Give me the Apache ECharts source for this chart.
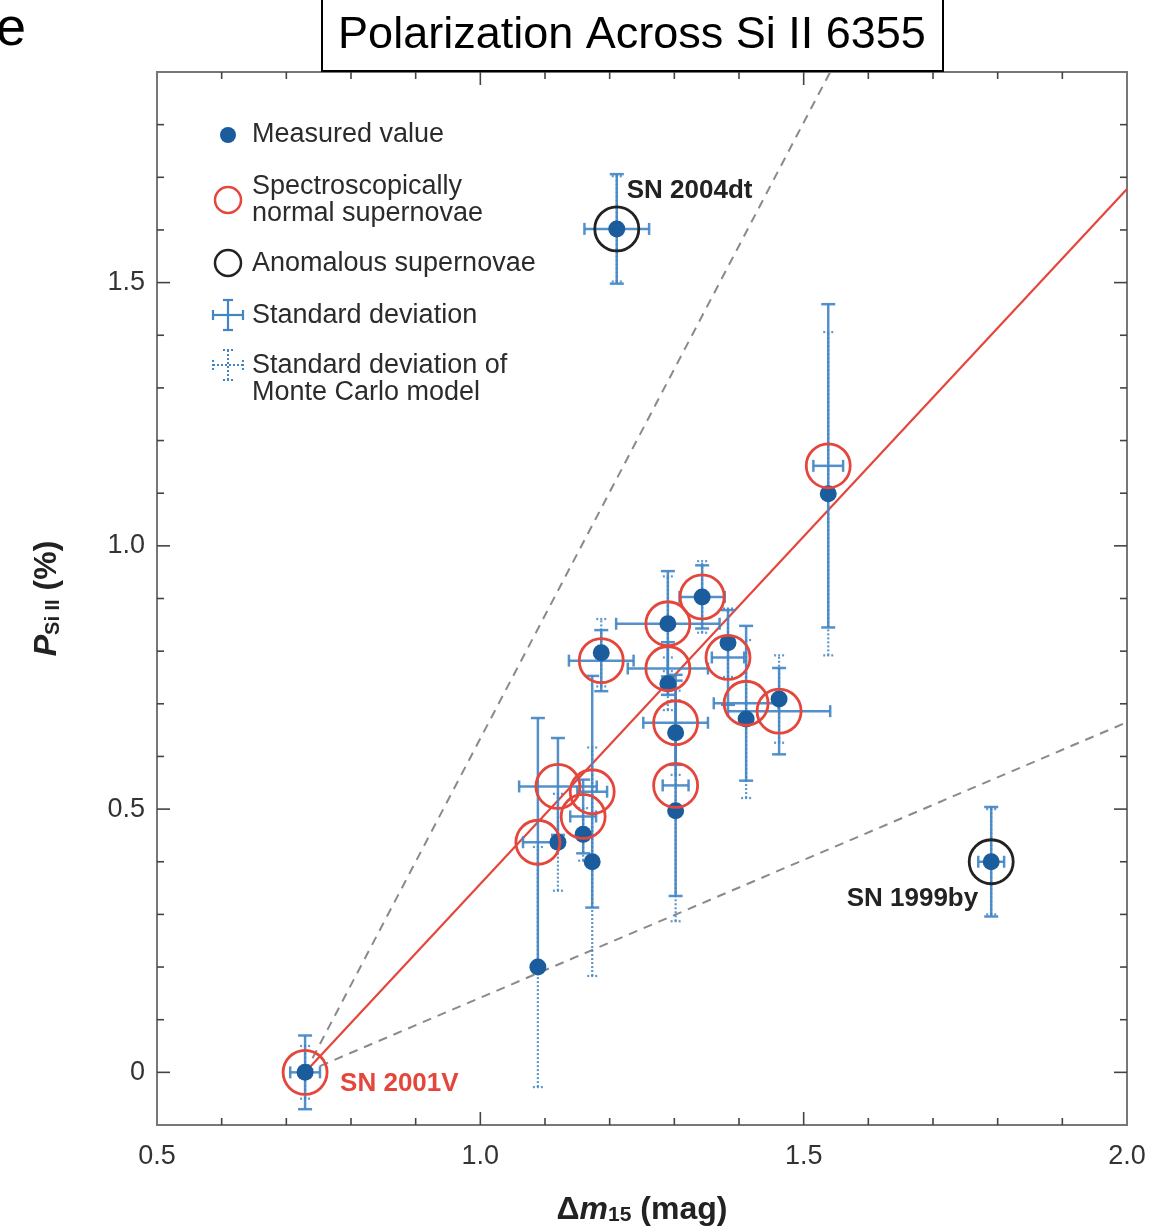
<!DOCTYPE html>
<html><head><meta charset="utf-8">
<script src="https://cdn.jsdelivr.net/npm/echarts@6/dist/echarts.min.js"></script>
<style>html,body{margin:0;padding:0;background:#fff}#c{width:1173px;height:1231px}</style>
</head><body><div id="c"></div>
<script>
// ---- data ----
const snLabels   = ['SN 2001V','','','','','','SN 2004dt','','','','','','','','','','SN 1999by'];
const anomalous  = [0,0,0,0,0,0,1,0,0,0,0,0,0,0,0,0,1];
const dm15       = [0.729,1.089,1.120,1.159,1.173,1.187,1.211,1.290,1.290,1.302,1.302,1.343,1.383,1.411,1.462,1.538,1.790];
const pCircle    = [0.000,0.437,0.543,0.486,0.533,0.782,1.602,0.852,0.767,0.664,0.545,0.903,0.788,0.701,0.686,1.152,0.400];
const sdY        = [0.070,0.236,0.092,0.070,0.220,0.058,0.104,0.100,0.050,0.080,0.210,0.060,0.090,0.147,0.082,0.307,0.104];
const sdX        = [0.023,0.023,0.060,0.020,0.023,0.050,0.050,0.080,0.062,0.050,0.020,0.035,0.025,0.050,0.079,0.023,0.020];
const pMeasured  = [0.000,0.200,0.437,0.452,0.400,0.797,1.602,0.852,0.738,0.645,0.497,0.903,0.816,0.671,0.709,1.099,0.400];
const mcY        = [0.050,0.228,0.092,0.050,0.217,0.064,0.100,0.090,0.050,0.080,0.210,0.068,0.065,0.150,0.083,0.307,0.100];
const fitLine    = [[0.729,0.000],[2.000,1.678]];
const upperBound = [[0.729,0.000],[1.541,1.900]];
const lowerBound = [[0.729,0.000],[2.000,0.665]];
const xMajorTicks = [1.0,1.5];
const xMinorTicks = [0.6,0.7,0.8,0.9,1.1,1.2,1.3,1.4,1.6,1.7,1.8,1.9];
const yMajorTicks = [0,0.5,1.0,1.5];
const yMinorTicks = [0.1,0.2,0.3,0.4,0.6,0.7,0.8,0.9,1.1,1.2,1.3,1.4,1.6,1.7,1.8];
const xTickLabels = {'0.5':'0.5','1':'1.0','1.5':'1.5','2':'2.0'};
const yTickLabels = {'0':'0','0.5':'0.5','1':'1.0','1.5':'1.5'};

// ---- styles ----
const X_MIN=0.5, X_MAX=2.0, Y_MIN=-0.1, Y_MAX=1.9;
const BLUE_BAR='#4185c4', BLUE_DOT='#1b5c9c', RED='#e5463c', BLACK='#222';
const FONT='"Liberation Sans", Arial, sans-serif';
const labelStyle = {
  'SN 2001V':  {align:'left',  offset:[35,11],  color:RED},
  'SN 2004dt': {align:'left',  offset:[10,-38], color:'#222'},
  'SN 1999by': {align:'right', offset:[-13,37], color:'#222'}
};

function line(x1,y1,x2,y2,style){return {type:'line',shape:{x1,y1,x2,y2},style};}

function errRender(params, api){
  const x=api.value(0), yc=api.value(1), sy=api.value(2), sx=api.value(3), yd=api.value(4), my=api.value(5);
  const ch=[];
  const dot={stroke:BLUE_BAR,lineWidth:2.2,lineDash:[2,2],opacity:0.85};
  const sol={stroke:BLUE_BAR,lineWidth:2.5,opacity:0.9};
  const d0=api.coord([x,yd-my]), d1=api.coord([x,yd+my]);
  ch.push(line(d0[0],d0[1],d1[0],d1[1],dot));
  ch.push(line(d0[0]-5,d0[1],d0[0]+5,d0[1],dot));
  ch.push(line(d1[0]-5,d1[1],d1[0]+5,d1[1],dot));
  const s0=api.coord([x,yc-sy]), s1=api.coord([x,yc+sy]);
  ch.push(line(s0[0],s0[1],s1[0],s1[1],sol));
  ch.push(line(s0[0]-7,s0[1],s0[0]+7,s0[1],sol));
  ch.push(line(s1[0]-7,s1[1],s1[0]+7,s1[1],sol));
  const h0=api.coord([x-sx,yc]), h1=api.coord([x+sx,yc]);
  ch.push(line(h0[0],h0[1],h1[0],h1[1],sol));
  ch.push(line(h0[0],h0[1]-6,h0[0],h0[1]+6,sol));
  ch.push(line(h1[0],h1[1]-6,h1[0],h1[1]+6,sol));
  return {type:'group',children:ch};
}

function tickRender(params, api){
  const cs=params.coordSys; const v=api.value(0), major=api.value(1), dir=api.value(2);
  const L = major?13:7;
  const st={stroke:'#444',lineWidth:1.6};
  if(dir===0){
    const px=api.coord([v,Y_MIN])[0];
    return {type:'group',children:[line(px,cs.y+cs.height,px,cs.y+cs.height-L,st),line(px,cs.y,px,cs.y+L,st)]};
  } else {
    const py=api.coord([X_MIN,v])[1];
    return {type:'group',children:[line(cs.x,py,cs.x+L,py,st),line(cs.x+cs.width,py,cs.x+cs.width-L,py,st)]};
  }
}

const tickData = [].concat(
  xMinorTicks.map(v=>[v,0,0]), xMajorTicks.map(v=>[v,1,0]),
  yMinorTicks.map(v=>[v,0,1]), yMajorTicks.map(v=>[v,1,1]));
const errData = dm15.map((x,i)=>[x,pCircle[i],sdY[i],sdX[i],pMeasured[i],mcY[i]]);
const dotData = dm15.map((x,i)=>[x,pMeasured[i]]);
const circleData = dm15.map((x,i)=>{
  const item={value:[x,pCircle[i]], itemStyle:{borderColor: anomalous[i]?BLACK:RED}};
  const ls=labelStyle[snLabels[i]];
  if(ls){
    item.label={show:true,formatter:snLabels[i],position:'inside',align:ls.align,verticalAlign:'middle',
      offset:ls.offset,color:ls.color,fontFamily:FONT,fontWeight:'bold',fontSize:26};
  }
  return item;
});

const legendX=228, legendTX=252;
const LF='27px '+FONT, LC='#2b2b2b';
const legendGraphics = [
  {type:'circle',shape:{cx:legendX,cy:135,r:8},style:{fill:BLUE_DOT}},
  {type:'text',style:{x:legendTX,y:135,text:'Measured value',font:LF,fill:LC,textVerticalAlign:'middle'}},
  {type:'circle',shape:{cx:legendX,cy:200,r:13},style:{fill:'none',stroke:RED,lineWidth:2.5}},
  {type:'text',style:{x:legendTX,y:200,text:'Spectroscopically\nnormal supernovae',font:LF,lineHeight:27,fill:LC,textVerticalAlign:'middle'}},
  {type:'circle',shape:{cx:legendX,cy:263,r:13},style:{fill:'none',stroke:BLACK,lineWidth:2.5}},
  {type:'text',style:{x:legendTX,y:264,text:'Anomalous supernovae',font:LF,fill:LC,textVerticalAlign:'middle'}},
  line(legendX,300,legendX,330,{stroke:BLUE_BAR,lineWidth:2.2}),
  line(legendX-5,300,legendX+5,300,{stroke:BLUE_BAR,lineWidth:2.2}),
  line(legendX-5,330,legendX+5,330,{stroke:BLUE_BAR,lineWidth:2.2}),
  line(legendX-15,315,legendX+15,315,{stroke:BLUE_BAR,lineWidth:2.2}),
  line(legendX-15,310,legendX-15,320,{stroke:BLUE_BAR,lineWidth:2.2}),
  line(legendX+15,310,legendX+15,320,{stroke:BLUE_BAR,lineWidth:2.2}),
  {type:'text',style:{x:legendTX,y:316,text:'Standard deviation',font:LF,fill:LC,textVerticalAlign:'middle'}},
  line(legendX,350,legendX,380,{stroke:BLUE_BAR,lineWidth:2,lineDash:[2,2]}),
  line(legendX-5,350,legendX+5,350,{stroke:BLUE_BAR,lineWidth:2,lineDash:[2,2]}),
  line(legendX-5,380,legendX+5,380,{stroke:BLUE_BAR,lineWidth:2,lineDash:[2,2]}),
  line(legendX-15,365,legendX+15,365,{stroke:BLUE_BAR,lineWidth:2,lineDash:[2,2]}),
  line(legendX-15,360,legendX-15,370,{stroke:BLUE_BAR,lineWidth:2,lineDash:[2,2]}),
  line(legendX+15,360,legendX+15,370,{stroke:BLUE_BAR,lineWidth:2,lineDash:[2,2]}),
  {type:'text',style:{x:legendTX,y:379,text:'Standard deviation of\nMonte Carlo model',font:LF,lineHeight:27,fill:LC,textVerticalAlign:'middle'}}
];

const richName = {
  d:{fontSize:32,fontWeight:'bold',fontFamily:FONT,color:'#222',verticalAlign:'bottom',lineHeight:38},
  i:{fontSize:32,fontWeight:'bold',fontStyle:'italic',fontFamily:FONT,color:'#222',verticalAlign:'bottom',lineHeight:38},
  s:{fontSize:21,fontWeight:'bold',fontFamily:FONT,color:'#222',verticalAlign:'bottom',lineHeight:29}};
const richNameY = {
  d:richName.d, i:richName.i,
  s:{fontSize:20,fontWeight:'bold',fontFamily:FONT,color:'#222',verticalAlign:'bottom',lineHeight:29}};

const option = {
  animation:false,
  backgroundColor:'#fff',
  grid:{left:157,right:46,top:72,bottom:96,show:true,borderColor:'#777',borderWidth:2,backgroundColor:'transparent'},
  xAxis:{type:'value',min:X_MIN,max:X_MAX,interval:0.5,
    axisLine:{show:false},axisTick:{show:false},splitLine:{show:false},
    axisLabel:{margin:18,fontSize:27,color:'#333',fontFamily:FONT,
      formatter:v=>xTickLabels[String(Math.round(v*10)/10)]||''},
    name:'{d|Δ}{i|m}{s|15}{d| (mag)}',nameLocation:'middle',nameGap:63,
    nameTextStyle:{rich:richName}},
  yAxis:{type:'value',min:Y_MIN,max:Y_MAX,interval:0.1,
    axisLine:{show:false},axisTick:{show:false},splitLine:{show:false},
    axisLabel:{margin:12,fontSize:27,color:'#333',fontFamily:FONT,
      formatter:v=>yTickLabels[String(Math.round(v*10)/10)]||''},
    name:'{i|P}{s|Si II}{d| (%)}',nameLocation:'middle',nameGap:94,nameRotate:90,
    nameTextStyle:{rich:richNameY}},
  series:[
    {type:'custom',renderItem:tickRender,data:tickData,z:1,silent:true},
    {type:'line',data:upperBound,symbol:'none',lineStyle:{color:'#8a8a8a',width:2,type:[9,7]},z:2,silent:true},
    {type:'line',data:lowerBound,symbol:'none',lineStyle:{color:'#8a8a8a',width:2,type:[9,7]},z:2,silent:true},
    {type:'line',data:fitLine,symbol:'none',lineStyle:{color:RED,width:2.2},z:3,silent:true},
    {type:'custom',renderItem:errRender,data:errData,z:4,silent:true},
    {type:'scatter',data:dotData,symbol:'circle',symbolSize:17,itemStyle:{color:BLUE_DOT,opacity:1},z:5,silent:true},
    {type:'scatter',data:circleData,symbol:'circle',symbolSize:44,
      itemStyle:{color:'rgba(0,0,0,0)',borderWidth:2.8,opacity:1},z:6,silent:true}
  ],
  graphic:[
    {type:'rect',shape:{x:322,y:-5,width:621,height:76},style:{fill:'#fff',stroke:'#000',lineWidth:2},z:10},
    {type:'text',style:{x:632,y:36,text:'Polarization Across Si II 6355',font:'45px '+FONT,fill:'#000',textAlign:'center',textVerticalAlign:'middle'},z:11},
    {type:'text',style:{x:-4,y:30,text:'e',font:'54px '+FONT,fill:'#000',textVerticalAlign:'middle'},z:11}
  ].concat(legendGraphics.map(g=>Object.assign({z:12},g)))
};
const chart = echarts.init(document.getElementById('c'));
chart.setOption(option);
</script></body></html>
